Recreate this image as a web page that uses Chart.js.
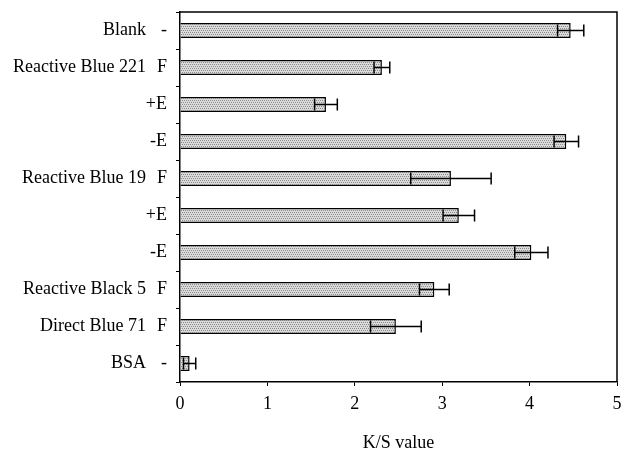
<!DOCTYPE html>
<html lang="en">
<head>
    <meta charset="UTF-8">
    <title>K/S value</title>
    <script src="https://cdn.jsdelivr.net/npm/chart.js"></script>
    <style>
        body { margin: 0; padding: 0; background: #fff; }
        #wrap { width: 623px; height: 449px; }
    </style>
</head>
<body>
    <div id="wrap"><canvas id="ksChart" width="623" height="449"></canvas></div>

    <script>
        // data
        const nameLabels = ['Blank', 'Reactive Blue 221', '', '', 'Reactive Blue 19', '', '', 'Reactive Black 5', 'Direct Blue 71', 'BSA'];
        const codeLabels = ['-', 'F', '+E', '-E', 'F', '+E', '-E', 'F', 'F', '-'];
        const ksValues = [4.47, 2.31, 1.67, 4.42, 3.10, 3.19, 4.02, 2.91, 2.47, 0.11];
        const ksErrors = [0.15, 0.09, 0.13, 0.14, 0.46, 0.18, 0.19, 0.17, 0.29, 0.07];
        const xTicks = [0, 1, 2, 3, 4, 5];

        const font = { family: '"Liberation Serif", "DejaVu Serif", serif', size: 18 };

        // stipple fill like the printed bars
        function makePattern() {
            const c = document.createElement('canvas');
            c.width = 4; c.height = 4;
            const g = c.getContext('2d');
            g.fillStyle = '#dadada';
            g.fillRect(0, 0, 4, 4);
            g.fillStyle = '#8c8c8c';
            g.fillRect(0, 0, 1, 1);
            g.fillRect(2, 0, 1, 1);
            g.fillRect(1, 2, 1, 1);
            g.fillRect(3, 2, 1, 1);
            return g.createPattern(c, 'repeat');
        }

        // no extra label overhang (the layout padding does it), and
        // don't clip the labels to the axis box, the two left axes overlap a bit
        function fixBox(s) {
            s.paddingTop = 0; s.paddingBottom = 0;
            s.paddingLeft = 0; s.paddingRight = 0;
            s._computeLabelArea = () => undefined;
        }

        const frameAndErrors = {
            id: 'frameAndErrors',
            afterDatasetsDraw(chart) {
                const ctx = chart.ctx;
                const xs = chart.scales.x;
                const ys = chart.scales.y;
                ctx.save();
                ctx.strokeStyle = '#000';
                ctx.lineWidth = 1.5;
                ksValues.forEach((v, i) => {
                    const y = ys.getPixelForValue(i);
                    const lo = xs.getPixelForValue(v - ksErrors[i]);
                    const hi = xs.getPixelForValue(v + ksErrors[i]);
                    ctx.beginPath();
                    ctx.moveTo(lo, y); ctx.lineTo(hi, y);
                    ctx.moveTo(lo, y - 6); ctx.lineTo(lo, y + 6);
                    ctx.moveTo(hi, y - 6); ctx.lineTo(hi, y + 6);
                    ctx.stroke();
                });
                // box round the plot
                const a = chart.chartArea;
                ctx.beginPath();
                ctx.moveTo(a.left, a.top); ctx.lineTo(a.right, a.top); ctx.lineTo(a.right, a.bottom);
                ctx.stroke();
                ctx.restore();
            }
        };

        new Chart(document.getElementById('ksChart'), {
            type: 'bar',
            data: {
                labels: codeLabels,
                datasets: [{
                    data: ksValues,
                    backgroundColor: makePattern(),
                    borderColor: '#000',
                    borderWidth: 1.5,
                    barPercentage: 0.4,
                    categoryPercentage: 1
                }]
            },
            options: {
                indexAxis: 'y',
                responsive: false,
                animation: false,
                layout: { padding: { top: 12, right: 6, left: 0, bottom: 0 } },
                plugins: { legend: { display: false }, tooltip: { enabled: false } },
                scales: {
                    x: {
                        min: 0, max: 5,
                        afterBuildTicks: s => { s.ticks = xTicks.map(v => ({ value: v })); },
                        grid: { drawOnChartArea: false, tickLength: 4, color: '#000' },
                        border: { color: '#000', width: 1.5 },
                        ticks: { color: '#000', font: font, padding: 7, maxRotation: 0 },
                        title: { display: true, text: 'K/S value', color: '#000', font: { ...font, lineHeight: 1 }, padding: { top: 0, bottom: -3 } },
                        afterFit: s => { s.height = 67; fixBox(s); }
                    },
                    y: {
                        weight: 0,
                        grid: { drawOnChartArea: false, tickLength: 4, color: '#000', offset: true },
                        border: { color: '#000', width: 1.5 },
                        ticks: { color: '#000', font: font, padding: 9 },
                        afterFit: s => { s.width = 30; fixBox(s); }
                    },
                    yName: {
                        type: 'category',
                        position: 'left',
                        weight: 1,
                        labels: nameLabels,
                        offset: true,
                        grid: { display: false, drawTicks: false },
                        border: { display: false },
                        ticks: { color: '#000', font: font, padding: 4, autoSkip: false },
                        afterFit: s => { s.width = 150; fixBox(s); }
                    }
                }
            },
            plugins: [frameAndErrors]
        });
    </script>
</body>
</html>
